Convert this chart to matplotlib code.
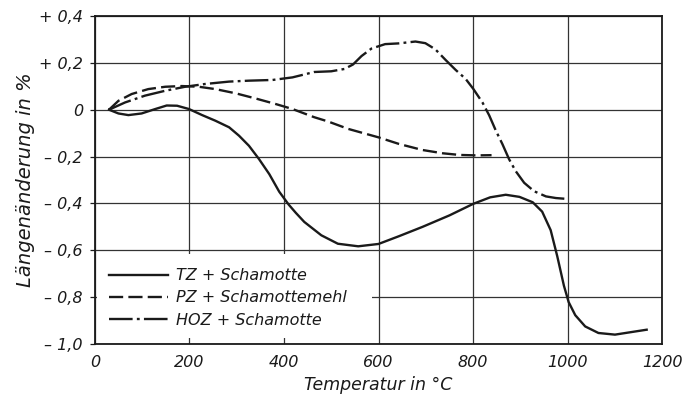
import matplotlib
matplotlib.use("Agg")
import matplotlib.pyplot as plt
from matplotlib.patches import Rectangle

# TZ + Schamotte (solid)
tz_temp = [30, 50, 71, 99, 128, 152, 174, 199, 227, 255, 284, 305, 326, 347, 369,
           390, 410, 425, 443, 479, 514, 557, 600, 643, 693, 750, 800, 836, 869,
           898, 926, 946, 964, 978, 992, 1002, 1016, 1037, 1065, 1100, 1135, 1167]
tz_val = [0.0, -0.016, -0.023, -0.016, 0.003, 0.018, 0.017, 0.003, -0.023, -0.047,
          -0.075, -0.111, -0.154, -0.21, -0.275, -0.35, -0.405, -0.44, -0.479,
          -0.536, -0.572, -0.583, -0.573, -0.54, -0.50, -0.451, -0.402, -0.374,
          -0.363, -0.372, -0.395, -0.435, -0.514, -0.626, -0.751, -0.821, -0.877,
          -0.925, -0.953, -0.96, -0.949, -0.939]

# PZ + Schamottemehl (dashed)
pz_temp = [30, 50, 78, 113, 149, 184, 220, 255, 298, 340, 383, 418, 464, 493, 536,
           600, 643, 693, 736, 771, 807, 839]
pz_val = [0.0, 0.038, 0.067, 0.088, 0.098, 0.101, 0.098, 0.088, 0.07, 0.048, 0.024,
          0.003, -0.032, -0.05, -0.082, -0.118, -0.146, -0.172, -0.186, -0.193,
          -0.195, -0.194]

# HOZ + Schamotte (dash-dot)
hoz_temp = [30, 64, 106, 149, 191, 234, 284, 326, 376, 418, 464, 500, 528, 546, 564,
            585, 614, 642, 678, 699, 720, 742, 763, 784, 800, 820, 834, 848, 862,
            876, 890, 908, 929, 954, 975, 1000]
hoz_val = [0.0, 0.031, 0.06, 0.081, 0.098, 0.11, 0.12, 0.124, 0.127, 0.138, 0.161,
           0.164, 0.174, 0.193, 0.229, 0.261, 0.28, 0.283, 0.291, 0.284, 0.258, 0.212,
           0.17, 0.132, 0.09, 0.03, -0.024, -0.089, -0.147, -0.211, -0.262, -0.312,
           -0.348, -0.37, -0.377, -0.381]

labels = ["TZ + Schamotte", "PZ + Schamottemehl", "HOZ + Schamotte"]
x_ticks = [0, 200, 400, 600, 800, 1000, 1200]
x_ticklabels = ["0", "200", "400", "600", "800", "1000", "1200"]
y_ticks = [0.4, 0.2, 0.0, -0.2, -0.4, -0.6, -0.8, -1.0]
y_ticklabels = ["+ 0,4", "+ 0,2", "0", "\u2013 0,2", "\u2013 0,4", "\u2013 0,6",
                "\u2013 0,8", "\u2013 1,0"]

ink = "#1a1a1a"
plt.rcParams["font.family"] = ["DejaVu Sans"]
plt.rcParams["font.style"] = "italic"

fig = plt.figure(figsize=(6.87, 4.0), dpi=100)
ax = fig.add_axes([0.138, 0.14, 0.826, 0.82])

lw = 1.7
ax.plot(tz_temp, tz_val, color=ink, lw=lw, ls="-", label=labels[0], zorder=4)
ax.plot(pz_temp, pz_val, color=ink, lw=lw, ls=(0, (6.0, 2.2)), label=labels[1], zorder=4)
ax.plot(hoz_temp, hoz_val, color=ink, lw=lw, ls=(0, (10, 1.8, 1.2, 1.8)), label=labels[2], zorder=4)

ax.set_xlim(0, 1200)
ax.set_ylim(-1.0, 0.4)
ax.set_xticks(x_ticks)
ax.set_xticklabels(x_ticklabels)
ax.set_yticks(y_ticks)
ax.set_yticklabels(y_ticklabels)
ax.tick_params(axis="both", labelsize=11.5, colors=ink, length=3.6, width=0.9)
ax.tick_params(axis="y", pad=5)
ax.tick_params(axis="x", length=0, pad=8)
ax.grid(True, color="#333333", lw=0.9)
ax.set_axisbelow(True)
for sp in ax.spines.values():
    sp.set_color(ink)
    sp.set_linewidth(1.3)

# white patch behind legend hides the grid there
ax.add_patch(Rectangle((0.004, 0.018), 0.485, 0.256, transform=ax.transAxes,
                       facecolor="white", edgecolor="none", zorder=2))
leg = ax.legend(loc="upper left", bbox_to_anchor=(0.0, 0.275), frameon=False,
                fontsize=11.5, handlelength=3.7, handletextpad=0.5,
                labelspacing=0.45, borderpad=0.45, borderaxespad=0.45)
for t in leg.get_texts():
    t.set_color(ink)

ax.set_xlabel("Temperatur in \u00b0C", fontsize=12.5, color=ink, labelpad=4)
ax.set_ylabel("L\u00e4ngen\u00e4nderung in %", fontsize=14, color=ink, labelpad=3)

fig.savefig("out.png", dpi=100, facecolor="white")
